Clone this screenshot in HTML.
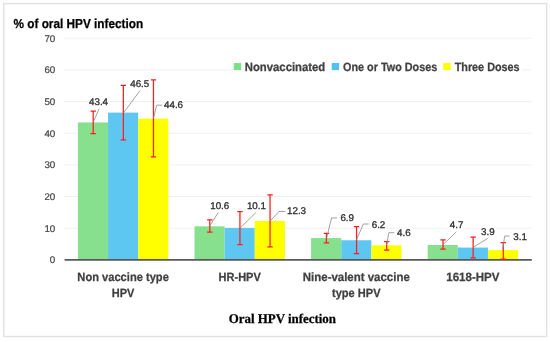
<!DOCTYPE html><html><head><meta charset="utf-8"><style>html,body{margin:0;padding:0;background:#fff}svg{display:block;will-change:transform}text{font-family:"Liberation Sans",sans-serif;text-rendering:geometricPrecision}</style></head><body>
<svg width="550" height="342" viewBox="0 0 550 342">
<rect x="0" y="0" width="550" height="342" fill="#fff"/>
<rect x="3.7" y="3.6" width="542.9" height="332.9" fill="#fff" stroke="#E1E1E1" stroke-width="1.4"/>
<line x1="64.3" x2="531.5" y1="228.23" y2="228.23" stroke="#F0F0F0" stroke-width="1"/>
<line x1="64.3" x2="531.5" y1="196.56" y2="196.56" stroke="#F0F0F0" stroke-width="1"/>
<line x1="64.3" x2="531.5" y1="164.89" y2="164.89" stroke="#F0F0F0" stroke-width="1"/>
<line x1="64.3" x2="531.5" y1="133.22" y2="133.22" stroke="#F0F0F0" stroke-width="1"/>
<line x1="64.3" x2="531.5" y1="101.55" y2="101.55" stroke="#F0F0F0" stroke-width="1"/>
<line x1="64.3" x2="531.5" y1="69.88" y2="69.88" stroke="#F0F0F0" stroke-width="1"/>
<line x1="64.3" x2="531.5" y1="38.21" y2="38.21" stroke="#F0F0F0" stroke-width="1"/>
<rect x="77.90" y="122.45" width="30.13" height="137.45" fill="#87E08E"/>
<rect x="108.03" y="112.63" width="30.13" height="147.27" fill="#5DC7F2"/>
<rect x="138.16" y="118.65" width="30.13" height="141.25" fill="#FFFF00"/>
<rect x="194.50" y="226.33" width="30.13" height="33.57" fill="#87E08E"/>
<rect x="224.63" y="227.91" width="30.13" height="31.99" fill="#5DC7F2"/>
<rect x="254.76" y="220.95" width="30.13" height="38.95" fill="#FFFF00"/>
<rect x="311.10" y="238.05" width="30.13" height="21.85" fill="#87E08E"/>
<rect x="341.23" y="240.26" width="30.13" height="19.64" fill="#5DC7F2"/>
<rect x="371.36" y="245.33" width="30.13" height="14.57" fill="#FFFF00"/>
<rect x="427.70" y="245.02" width="30.13" height="14.88" fill="#87E08E"/>
<rect x="457.83" y="247.55" width="30.13" height="12.35" fill="#5DC7F2"/>
<rect x="487.96" y="250.08" width="30.13" height="9.82" fill="#FFFF00"/>
<line x1="64.6" x2="531.8" y1="259.9" y2="259.9" stroke="#595959" stroke-width="1.6"/>
<path d="M93.21 111.20V133.60M90.51 111.20H95.91M90.51 133.60H95.91" stroke="#FF1C1C" stroke-width="1.25" fill="none"/>
<path d="M123.34 85.40V139.80M120.64 85.40H126.04M120.64 139.80H126.04" stroke="#FF1C1C" stroke-width="1.25" fill="none"/>
<path d="M153.47 79.90V156.90M150.78 79.90H156.17M150.78 156.90H156.17" stroke="#FF1C1C" stroke-width="1.25" fill="none"/>
<path d="M209.81 219.80V232.20M207.11 219.80H212.51M207.11 232.20H212.51" stroke="#FF1C1C" stroke-width="1.25" fill="none"/>
<path d="M239.94 211.60V244.60M237.24 211.60H242.64M237.24 244.60H242.64" stroke="#FF1C1C" stroke-width="1.25" fill="none"/>
<path d="M270.07 194.90V246.80M267.38 194.90H272.77M267.38 246.80H272.77" stroke="#FF1C1C" stroke-width="1.25" fill="none"/>
<path d="M326.42 233.40V242.80M323.72 233.40H329.12M323.72 242.80H329.12" stroke="#FF1C1C" stroke-width="1.25" fill="none"/>
<path d="M356.55 226.60V253.50M353.85 226.60H359.25M353.85 253.50H359.25" stroke="#FF1C1C" stroke-width="1.25" fill="none"/>
<path d="M386.68 241.50V250.20M383.98 241.50H389.38M383.98 250.20H389.38" stroke="#FF1C1C" stroke-width="1.25" fill="none"/>
<path d="M443.01 239.90V249.10M440.31 239.90H445.71M440.31 249.10H445.71" stroke="#FF1C1C" stroke-width="1.25" fill="none"/>
<path d="M473.14 237.10V257.80M470.44 237.10H475.84M470.44 257.80H475.84" stroke="#FF1C1C" stroke-width="1.25" fill="none"/>
<path d="M503.27 242.50V259.10M500.57 242.50H505.97M500.57 259.10H505.97" stroke="#FF1C1C" stroke-width="1.25" fill="none"/>
<text x="13.5" y="28.1" font-size="13" font-weight="bold" stroke="#000" stroke-width="0.25" fill="#000" textLength="129.7" lengthAdjust="spacingAndGlyphs">% of oral HPV infection</text>
<text x="55.3" y="263.4" font-size="9.7" stroke="#444" stroke-width="0.2" fill="#444" text-anchor="end" textLength="5.45" lengthAdjust="spacingAndGlyphs">0</text>
<text x="55.3" y="231.73" font-size="9.7" stroke="#444" stroke-width="0.2" fill="#444" text-anchor="end" textLength="10.9" lengthAdjust="spacingAndGlyphs">10</text>
<text x="55.3" y="200.06" font-size="9.7" stroke="#444" stroke-width="0.2" fill="#444" text-anchor="end" textLength="10.9" lengthAdjust="spacingAndGlyphs">20</text>
<text x="55.3" y="168.39" font-size="9.7" stroke="#444" stroke-width="0.2" fill="#444" text-anchor="end" textLength="10.9" lengthAdjust="spacingAndGlyphs">30</text>
<text x="55.3" y="136.72" font-size="9.7" stroke="#444" stroke-width="0.2" fill="#444" text-anchor="end" textLength="10.9" lengthAdjust="spacingAndGlyphs">40</text>
<text x="55.3" y="105.05" font-size="9.7" stroke="#444" stroke-width="0.2" fill="#444" text-anchor="end" textLength="10.9" lengthAdjust="spacingAndGlyphs">50</text>
<text x="55.3" y="73.38" font-size="9.7" stroke="#444" stroke-width="0.2" fill="#444" text-anchor="end" textLength="10.9" lengthAdjust="spacingAndGlyphs">60</text>
<text x="55.3" y="41.71" font-size="9.7" stroke="#444" stroke-width="0.2" fill="#444" text-anchor="end" textLength="10.9" lengthAdjust="spacingAndGlyphs">70</text>
<rect x="233.5" y="60" width="288.3" height="14" fill="#fff"/>
<rect x="233.8" y="63" width="7.4" height="7.1" fill="#7CE085"/>
<text x="244.8" y="70.9" font-size="12" font-weight="bold" stroke="#404040" stroke-width="0.25" fill="#404040" textLength="80.4" lengthAdjust="spacingAndGlyphs">Nonvaccinated</text>
<rect x="331.7" y="63" width="7.4" height="7.1" fill="#50C1F3"/>
<text x="343.0" y="70.9" font-size="12" font-weight="bold" stroke="#404040" stroke-width="0.25" fill="#404040" textLength="94.3" lengthAdjust="spacingAndGlyphs">One or Two Doses</text>
<rect x="443.2" y="63" width="7.4" height="7.1" fill="#FFFF00"/>
<text x="454.7" y="70.9" font-size="12" font-weight="bold" stroke="#404040" stroke-width="0.25" fill="#404040" textLength="64.9" lengthAdjust="spacingAndGlyphs">Three Doses</text>
<text x="77.35" y="281.0" font-size="12" font-weight="bold" stroke="#404040" stroke-width="0.25" fill="#404040" textLength="91.5" lengthAdjust="spacingAndGlyphs">Non vaccine type</text>
<text x="111.8" y="296.6" font-size="12" font-weight="bold" stroke="#404040" stroke-width="0.25" fill="#404040" textLength="22.6" lengthAdjust="spacingAndGlyphs">HPV</text>
<text x="218.55" y="281.0" font-size="12" font-weight="bold" stroke="#404040" stroke-width="0.25" fill="#404040" textLength="42.3" lengthAdjust="spacingAndGlyphs">HR-HPV</text>
<text x="302.8" y="281.0" font-size="12" font-weight="bold" stroke="#404040" stroke-width="0.25" fill="#404040" textLength="107" lengthAdjust="spacingAndGlyphs">Nine-valent vaccine</text>
<text x="332.05" y="296.6" font-size="12" font-weight="bold" stroke="#404040" stroke-width="0.25" fill="#404040" textLength="48.5" lengthAdjust="spacingAndGlyphs">type HPV</text>
<text x="446.3" y="281.0" font-size="12" font-weight="bold" stroke="#404040" stroke-width="0.25" fill="#404040" textLength="53.2" lengthAdjust="spacingAndGlyphs">1618-HPV</text>
<text x="228.7" y="323.2" font-size="13.3" font-weight="bold" stroke="#000" stroke-width="0.25" style="font-family:&quot;Liberation Serif&quot;,serif" fill="#000" textLength="107.3" lengthAdjust="spacingAndGlyphs">Oral HPV infection</text>
<path d="M99.1 108.8L93.6 121.5" stroke="#8A8A8A" stroke-width="0.8" fill="none"/>
<rect x="87.50" y="97.00" width="22.07" height="10" fill="#fff"/>
<text x="89.0" y="104.7" font-size="9.7" stroke="#2E2E2E" stroke-width="0.3" fill="#2E2E2E" textLength="19.07" lengthAdjust="spacingAndGlyphs">43.4</text>
<path d="M140 90.6L123.6 112.8" stroke="#8A8A8A" stroke-width="0.8" fill="none"/>
<rect x="128.70" y="78.90" width="22.07" height="10" fill="#fff"/>
<text x="130.2" y="86.6" font-size="9.7" stroke="#2E2E2E" stroke-width="0.3" fill="#2E2E2E" textLength="19.07" lengthAdjust="spacingAndGlyphs">46.5</text>
<path d="M162.5 105.2H156.7L153.4 118.5" stroke="#8A8A8A" stroke-width="0.8" fill="none"/>
<rect x="162.50" y="100.10" width="22.07" height="10" fill="#fff"/>
<text x="164.0" y="107.8" font-size="9.7" stroke="#2E2E2E" stroke-width="0.3" fill="#2E2E2E" textLength="19.07" lengthAdjust="spacingAndGlyphs">44.6</text>
<path d="M218.2 212.6L209.8 225.8" stroke="#8A8A8A" stroke-width="0.8" fill="none"/>
<rect x="208.70" y="201.70" width="22.07" height="10" fill="#fff"/>
<text x="210.2" y="209.4" font-size="9.7" stroke="#2E2E2E" stroke-width="0.3" fill="#2E2E2E" textLength="19.07" lengthAdjust="spacingAndGlyphs">10.6</text>
<path d="M255.8 212.6L240.2 228" stroke="#8A8A8A" stroke-width="0.8" fill="none"/>
<rect x="245.40" y="201.70" width="22.07" height="10" fill="#fff"/>
<text x="246.9" y="209.4" font-size="9.7" stroke="#2E2E2E" stroke-width="0.3" fill="#2E2E2E" textLength="19.07" lengthAdjust="spacingAndGlyphs">10.1</text>
<path d="M285.6 211.5H278.9L270.2 221" stroke="#8A8A8A" stroke-width="0.8" fill="none"/>
<rect x="285.50" y="206.20" width="22.07" height="10" fill="#fff"/>
<text x="287.0" y="213.9" font-size="9.7" stroke="#2E2E2E" stroke-width="0.3" fill="#2E2E2E" textLength="19.07" lengthAdjust="spacingAndGlyphs">12.3</text>
<path d="M337.1 217.9H331.6L326.6 238.2" stroke="#8A8A8A" stroke-width="0.8" fill="none"/>
<rect x="338.90" y="213.70" width="16.62" height="10" fill="#fff"/>
<text x="340.4" y="221.4" font-size="9.7" stroke="#2E2E2E" stroke-width="0.3" fill="#2E2E2E" textLength="13.62" lengthAdjust="spacingAndGlyphs">6.9</text>
<path d="M368.7 224H363.3L356.5 239.9" stroke="#8A8A8A" stroke-width="0.8" fill="none"/>
<rect x="370.20" y="219.80" width="16.62" height="10" fill="#fff"/>
<text x="371.7" y="227.5" font-size="9.7" stroke="#2E2E2E" stroke-width="0.3" fill="#2E2E2E" textLength="13.62" lengthAdjust="spacingAndGlyphs">6.2</text>
<path d="M394.3 232.7H388.8L386.6 245.2" stroke="#8A8A8A" stroke-width="0.8" fill="none"/>
<rect x="395.50" y="228.20" width="16.62" height="10" fill="#fff"/>
<text x="397.0" y="235.9" font-size="9.7" stroke="#2E2E2E" stroke-width="0.3" fill="#2E2E2E" textLength="13.62" lengthAdjust="spacingAndGlyphs">4.6</text>
<path d="M456.3 232L443.3 244.3" stroke="#8A8A8A" stroke-width="0.8" fill="none"/>
<rect x="448.30" y="220.60" width="16.62" height="10" fill="#fff"/>
<text x="449.8" y="228.3" font-size="9.7" stroke="#2E2E2E" stroke-width="0.3" fill="#2E2E2E" textLength="13.62" lengthAdjust="spacingAndGlyphs">4.7</text>
<path d="M487.8 238.4L473.5 247.1" stroke="#8A8A8A" stroke-width="0.8" fill="none"/>
<rect x="479.60" y="226.90" width="16.62" height="10" fill="#fff"/>
<text x="481.1" y="234.6" font-size="9.7" stroke="#2E2E2E" stroke-width="0.3" fill="#2E2E2E" textLength="13.62" lengthAdjust="spacingAndGlyphs">3.9</text>
<path d="M509.5 236H504.7L502.7 249.7" stroke="#8A8A8A" stroke-width="0.8" fill="none"/>
<rect x="511.80" y="232.10" width="16.62" height="10" fill="#fff"/>
<text x="513.3" y="239.8" font-size="9.7" stroke="#2E2E2E" stroke-width="0.3" fill="#2E2E2E" textLength="13.62" lengthAdjust="spacingAndGlyphs">3.1</text>
</svg></body></html>
